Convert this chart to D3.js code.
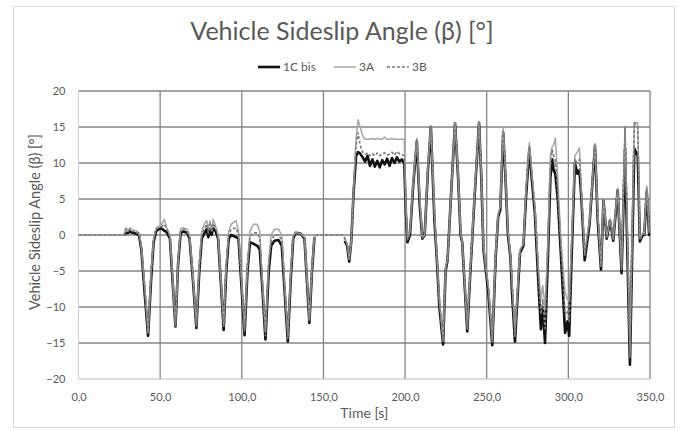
<!DOCTYPE html>
<html>
<head>
<meta charset="utf-8">
<script src="https://cdnjs.cloudflare.com/ajax/libs/d3/7.8.5/d3.min.js"></script>
<style>
  body { margin: 0; background: #fff; }
  text { font-family: Lato, "Open Sans", sans-serif; fill: #595959; }
</style>
</head>
<body>
<script>
var w = 680;
var h = 430;

var seriesNames = ["1C bis", "3A", "3B"];
var xTicks = [0, 50, 100, 150, 200, 250, 300, 350];
var yTicks = [-20, -15, -10, -5, 0, 5, 10, 15, 20];

var time = [0, 28, 29, 30.5, 31.5, 33, 35, 37, 38.5, 40.5, 42.6, 44.5, 46, 47.5, 49, 51, 52.5, 54, 56, 57.5,
  59.4, 61, 62.5, 64, 66.5, 68, 70, 72.2, 74, 75.5, 77, 78.5, 79.5, 80.5, 81.5, 82.5, 84, 85.5, 87, 88.9,
  90.5, 92, 93.5, 96.5, 98, 99.5, 101.7, 103.5, 105, 107, 109.5, 111, 112.5, 114.5, 116.5, 118, 120, 122.5, 124.5, 126,
  128.2, 130, 131.5, 133, 136, 138.4, 139.8, 141.4, 143, 144.5, 146, 162, 163, 164.5, 165.8, 167, 168.5, 170, 171.2, 172.5,
  174, 175.5, 177, 178.5, 180, 181.5, 183, 184.5, 186, 187.5, 189, 190.5, 192, 193.5, 195, 196.5, 198, 199.5, 200.5, 201.5,
  203, 205, 207.2, 209, 210.6, 212, 214, 215.8, 218, 219.5, 221, 223.3, 224.8, 226, 228.5, 230.6, 232.5, 234, 235, 236.5,
  238.1, 240, 242.5, 245.3, 246.7, 248, 249.5, 251, 253.4, 255.5, 257, 258.3, 260.1, 261.5, 263, 264.5, 265.5, 267.3, 270.4, 272.5,
  274, 276.1, 277.5, 279.5, 281.5, 283.2, 284.3, 285.7, 287.5, 289, 290.1, 291, 292, 293.5, 295.5, 298, 299.5, 300.5, 302, 304,
  305.5, 306.8, 308, 310, 311.5, 313, 316.3, 318, 320, 321.5, 323.5, 325.5, 327.5, 330.2, 332.6, 334.7, 337.7, 340.4, 342.5, 343.8,
  345.5, 346.5, 348, 349.5, 350];

// null = no sample recorded for that run
var beta1C = [null, 0, 0.3, 0.3, 0.5, 0.3, 0.2, 0, -2, -8, -14, -6, -1, 0.5, 0.8, 0.9, 0.6, 0.4, -0.5, -6,
  -12.7, -4, 0.2, 0.5, 0.3, -0.5, -6, -12.9, -5, -0.5, 0.2, 0.8, -0.3, 0.8, 0, 0.9, 0.5, -0.5, -6, -13.2,
  -5, -0.5, 0, -0.3, -0.5, -6, -13.9, -5, -1, -1.2, -1.5, -2, -7, -14.5, -5, -1.5, -0.8, -0.7, -1.5, -7,
  -14.8, -6, -0.5, 0.3, 0.2, -0.5, -6, -12.2, -5, -0.3, null, null, -0.8, -1.5, -3.7, -1, 6, 11, 11.5, 11.3,
  10.8, 10.2, 11, 9.6, 10.5, 9.5, 10.3, 9.4, 10.4, 9.8, 10.6, 9.6, 10.7, 10, 10.8, 10.2, 10.5, 10, 3, -1,
  0, 7, 13, 4, -0.5, 0, 9, 15, 2, -3.5, -10, -15.2, -5, -3.5, 7, 15.5, 8, 0, -1, -7,
  -13.4, -5, 5, 15.6, 8, -2, -5, -8, -15.3, -3, 2.5, 3.5, 14.2, 8, 0, -3, -8, -14.8, -2.5, -1.5,
  5, 12, 8, 3, -6, -13.1, -10, -15, -3, 8, 10.5, 9, 8.5, 5, -3, -13.6, -12, -14, -3, 10,
  8.5, 9, 5, -3.5, -1, 1.6, 12.4, 2, -4.8, 4.8, -0.5, 2, -0.8, 6.2, -5.3, 12, -18, 12, 11, -0.9,
  0, 0, 6, 0, 0];

var beta3A = [null, 0, 1, 0.6, 1, 0.7, 0.6, 0.3, -1.5, -7, -13.5, -5, -0.5, 1, 1.2, 1.5, 2.2, 1, 0, -5.5,
  -12.5, -3.5, 0.8, 1, 0.8, 0, -5.5, -12.5, -4, 0.5, 1.5, 2, 0.8, 2, 0.8, 2.2, 1.2, 0, -5.5, -12.5,
  -4, 0.5, 1.5, 2, 0.5, -5, -13, -4, 0.5, 1.5, 1.5, 0.5, -6, -13.5, -3.5, 0, 0.8, 0.8, 0, -6,
  -14, -5, 0, 0.3, 0.2, -0.3, -5.5, -11.8, -4.5, 0, null, null, -0.3, -1.2, -3.4, -1, 6.5, 13.5, 16, 15,
  13.8, 13.3, 13.3, 13.3, 13.4, 13.3, 13.4, 13.3, 13.3, 13.6, 13.3, 13.3, 13.4, 13.3, 13.3, 13.3, 13.3, 13.3, 4, -0.5,
  0.5, 7.5, 13.4, 5, -0.3, 0, 9.5, 15.2, 3, -3, -9, -14.5, -4.5, -3.5, 7, 15.6, 8.5, 0.5, -1, -6.5,
  -12.8, -4.5, 5.5, 15.8, 8.5, -1.5, -4.5, -7, -14.5, -2.5, 3, 4, 14.8, 8.5, 0.5, -2.5, -6.5, -13.5, -2, -1.2,
  6, 12.8, 9, 4, -4, -9, -7, -10, -1, 11, 12.3, 12.5, 13.5, 8, -1, -8, -9, -9, -1, 11,
  11.5, 12.1, 6, -2.5, 0, 2, 12.7, 3, -4.3, 5, -0.3, 2.2, -0.4, 6.5, -4.5, 15.1, -16, 15.6, 15.6, -0.5,
  0.3, 0.3, 6.8, 0.5, 0.3];

var beta3B = [0, 0, 0.8, 0.5, 0.8, 0.5, 0.4, 0.2, -1.8, -7.5, -13.8, -5.5, -0.7, 0.8, 1, 1.2, 1.5, 0.8, -0.2, -5.8,
  -12.6, -3.8, 0.5, 0.8, 0.5, -0.3, -5.8, -12.7, -4.5, 0, 0.8, 1.5, 0.3, 1.5, 0.4, 1.6, 1, -0.3, -5.8, -12.9,
  -4.5, 0, 0.8, 1, 0, -5.5, -13.5, -4.5, -0.2, 0.3, 0.3, -0.5, -6.5, -14, -4, -0.8, 0, 0, -0.7, -6.5,
  -14.4, -5.5, -0.2, 0.3, 0.2, -0.4, -5.8, -12, -4.8, -0.2, 0, 0, -0.5, -1.3, -3.5, -1, 6.2, 12.5, 14.2, 12.5,
  11.5, 11.2, 11.4, 11, 11.3, 11, 11.4, 11, 11.3, 11.4, 11.1, 11.2, 11.5, 11.1, 11.6, 11.3, 11.2, 11, 3.5, -0.7,
  0.2, 7.2, 13.2, 4.5, -0.4, 0, 9.2, 15, 2.5, -3.2, -9.5, -15, -4.7, -3.5, 7, 15.5, 8, 0.2, -1, -6.8,
  -13.1, -4.8, 5.2, 15.7, 8.2, -1.8, -4.8, -7.5, -15, -2.8, 2.8, 3.7, 14.4, 8.2, 0.2, -2.8, -7, -14.2, -2.2, -1.3,
  5.5, 12.3, 8.5, 3.5, -5, -11, -9, -13, -2, 9.5, 11.8, 11, 10.5, 6, -2, -11, -10.5, -12, -2, 10.5,
  10, 10.5, 5.5, -3, -0.5, 1.8, 12.5, 2.5, -4.5, 4.9, -0.4, 2.1, -0.6, 6.3, -4.8, 15, -17, 15.6, 15, -0.7,
  0.1, 0.1, 6.5, 0.2, 0.2];

var margin = {left: 78.5, right: 30, top: 91, bottom: 51};

var x = d3.scaleLinear()
          .domain([0, 350])
          .range([margin.left, w - margin.right]);

var y = d3.scaleLinear()
          .domain([-20, 20])
          .range([h - margin.bottom, margin.top]);

var svg = d3.select("body")
            .append("svg")
            .attr("width", w)
            .attr("height", h);

// chart frame
svg.append("rect")
   .attr("x", 13.5)
   .attr("y", 6.5)
   .attr("width", 661)
   .attr("height", 421)
   .attr("fill", "none")
   .attr("stroke", "#d9d9d9");

// grid
svg.append("g")
   .selectAll("line")
   .data(yTicks.filter(function(d){return d > -20;}))
   .enter()
   .append("line")
   .attr("x1", x(0))
   .attr("x2", x(350))
   .attr("y1", function(d){return y(d);})
   .attr("y2", function(d){return y(d);})
   .attr("stroke", "#858585")
   .attr("stroke-width", 1.3);

svg.append("g")
   .selectAll("line")
   .data(xTicks.filter(function(d){return d > 0;}))
   .enter()
   .append("line")
   .attr("x1", function(d){return x(d);})
   .attr("x2", function(d){return x(d);})
   .attr("y1", y(20))
   .attr("y2", y(-20))
   .attr("stroke", "#858585")
   .attr("stroke-width", 1.3);

// axes lines
svg.append("line")
   .attr("x1", x(0)).attr("x2", x(350))
   .attr("y1", y(-20)).attr("y2", y(-20))
   .attr("stroke", "#bfbfbf");
svg.append("line")
   .attr("x1", x(0)).attr("x2", x(0))
   .attr("y1", y(20)).attr("y2", y(-20))
   .attr("stroke", "#d0d0d0");

var fmt = d3.format(".1f");

var xAxis = svg.append("g")
   .attr("transform", "translate(0," + y(-20) + ")")
   .call(d3.axisBottom(x).tickValues(xTicks).tickSize(0).tickPadding(14)
     .tickFormat(function(d){return fmt(d).replace(".", ",");}));
xAxis.select(".domain").remove();
xAxis.selectAll("text").attr("font-size", "11px").attr("font-family", "Lato").attr("fill", "#595959");

var yAxis = svg.append("g")
   .attr("transform", "translate(" + x(0) + ",0)")
   .call(d3.axisLeft(y).tickValues(yTicks).tickSize(0).tickPadding(13));
yAxis.select(".domain").remove();
yAxis.selectAll("text").attr("font-size", "11px").attr("font-family", "Lato").attr("fill", "#595959");

// series
var line = d3.line()
             .defined(function(d){return d[1] !== null;})
             .x(function(d){return x(d[0]);})
             .y(function(d){return y(d[1]);});

function pairs(vals) {
  return time.map(function(t, i){return [t, vals[i]];});
}

svg.append("path")
   .attr("d", line(pairs(beta1C)))
   .attr("fill", "none")
   .attr("stroke", "#111")
   .attr("stroke-width", 2.6)
   .attr("stroke-linejoin", "round");

svg.append("path")
   .attr("d", line(pairs(beta3A)))
   .attr("fill", "none")
   .attr("stroke", "#a6a6a6")
   .attr("stroke-width", 1.5)
   .attr("stroke-linejoin", "round");

svg.append("path")
   .attr("d", line(pairs(beta3B)))
   .attr("fill", "none")
   .attr("stroke", "#7a7a7a")
   .attr("stroke-width", 1.6)
   .attr("stroke-dasharray", "3,2")
   .attr("stroke-linejoin", "round");

// titles
svg.append("text")
   .text("Vehicle Sideslip Angle (β) [°]")
   .attr("x", 342)
   .attr("y", 40)
   .attr("text-anchor", "middle")
   .attr("font-size", "25px");

svg.append("text")
   .text("Time [s]")
   .attr("x", x(175))
   .attr("y", 418)
   .attr("text-anchor", "middle")
   .attr("font-size", "14px");

svg.append("text")
   .text("Vehicle Sideslip Angle (β) [°]")
   .attr("transform", "translate(40,222) rotate(-90)")
   .attr("text-anchor", "middle")
   .attr("font-size", "14.5px");

// legend
var legendX = [258, 334, 387];
var legendStyle = [
  {stroke: "#111", width: 2.6, dash: null},
  {stroke: "#a6a6a6", width: 1.5, dash: null},
  {stroke: "#7a7a7a", width: 1.6, dash: "3,2"}
];
var legend = svg.append("g")
   .selectAll("g")
   .data(seriesNames)
   .enter()
   .append("g")
   .attr("transform", function(d, i){return "translate(" + legendX[i] + ",67)";});

legend.append("line")
   .attr("x1", 0).attr("x2", 22)
   .attr("y1", 0).attr("y2", 0)
   .attr("stroke", function(d, i){return legendStyle[i].stroke;})
   .attr("stroke-width", function(d, i){return legendStyle[i].width;})
   .attr("stroke-dasharray", function(d, i){return legendStyle[i].dash;});

legend.append("text")
   .text(function(d){return d;})
   .attr("x", 25)
   .attr("y", 4)
   .attr("font-size", "12px");
</script>
</body>
</html>
